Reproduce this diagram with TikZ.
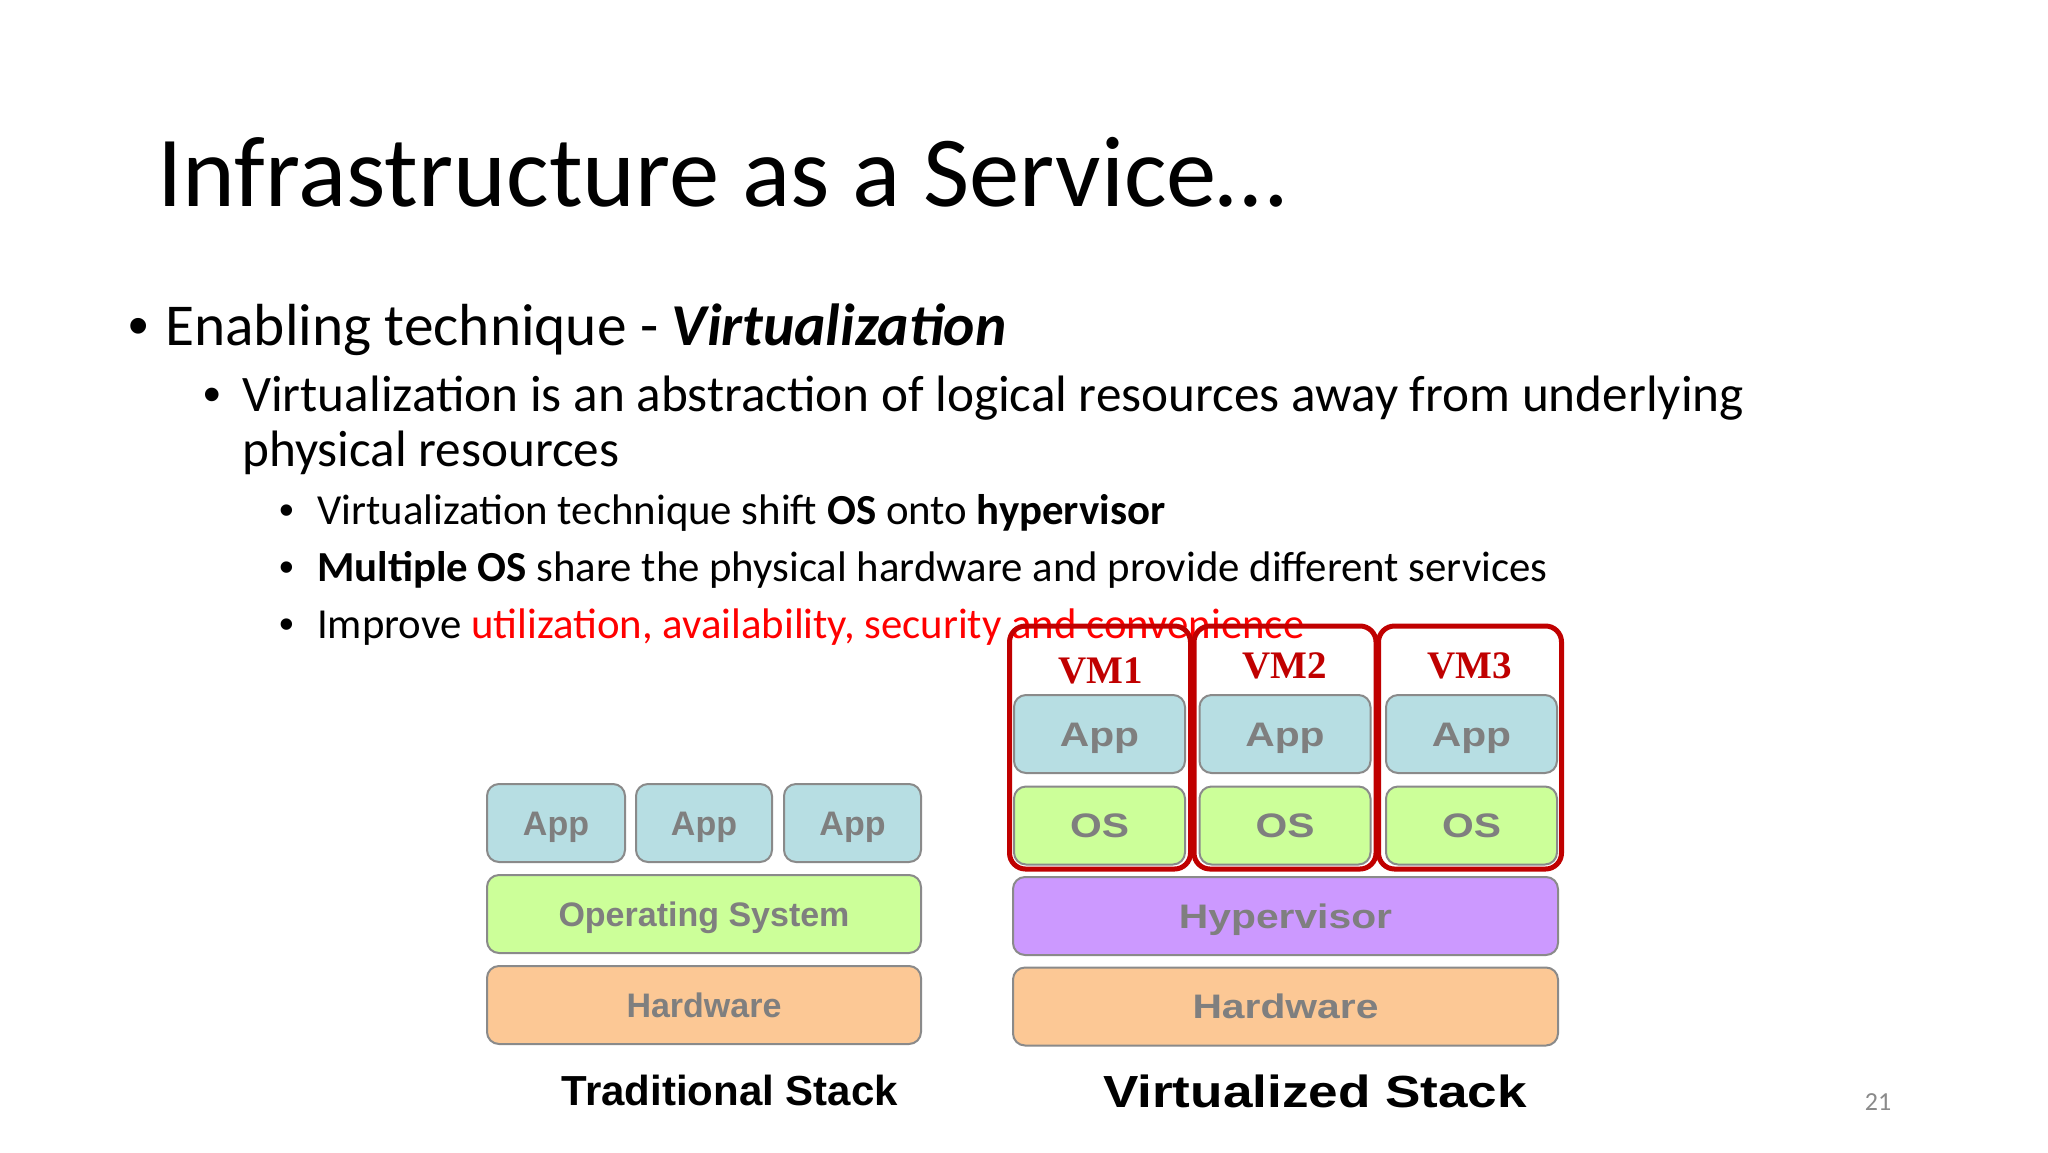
\documentclass[tikz,border=0pt]{standalone}
\usepackage{fontspec}
\setmainfont{Carlito}
\newfontfamily\arialf{Liberation Sans}
\newfontfamily\timesf{Liberation Serif}
\usetikzlibrary{positioning}
\definecolor{appfill}{HTML}{B7DEE3}
\definecolor{osfill}{HTML}{CCFF99}
\definecolor{hwfill}{HTML}{FCC895}
\definecolor{hypfill}{HTML}{CC99FF}
\definecolor{boxgray}{HTML}{8A8A8A}
\definecolor{labelgray}{HTML}{7F7F7F}
\definecolor{vmred}{HTML}{C00000}
\definecolor{txtred}{HTML}{FF0000}
\definecolor{pagegray}{HTML}{8A8A8A}
\tikzset{
  layer/.style={draw=boxgray, line width=2pt, rounded corners=12pt, inner sep=0pt,
    text height=24.3pt, text depth=0pt,
    text=labelgray, font=\arialf\bfseries\fontsize{34}{40}\selectfont},
  vmbox/.style={draw=vmred, line width=5pt, rounded corners=16pt, inner sep=0pt},
  vmlabel/.style={anchor=base, text=vmred, inner sep=0pt, font=\timesf\bfseries\fontsize{39}{44}\selectfont},
  txt/.style={anchor=base west, inner sep=0pt},
  bul/.style={anchor=base west, inner sep=0pt, font=\arialf}
}
\newcommand{\vs}[1]{\scalebox{1.2}[1]{#1}}
\begin{document}
\begin{tikzpicture}[x=1pt,y=-1pt]
\useasboundingbox[fill=white] (0,0) rectangle (2048,1152);

% title
\node[txt, font=\fontsize{100.6}{110}\selectfont] (title) at (157,206) {Infrastructure as a Service…};

% level 1
\node[bul, font=\arialf\fontsize{58}{60}\selectfont] (b1) at (128,345) {•};
\node[txt, font=\fontsize{59.4}{66}\selectfont] (t1) at (165,345) {Enabling technique - \textbf{\textit{Virtualization}}};

% level 2
\node[bul, font=\arialf\fontsize{50}{60}\selectfont] (b2) at (203,411) {•};
\node[txt, font=\fontsize{51.2}{58}\selectfont] (t2a) at (242,411) {Virtualization is an abstraction of logical resources away from underlying};
\node[txt, font=\fontsize{51.2}{58}\selectfont] (t2b) at (242,466) {physical resources};

% level 3
\node[bul, font=\arialf\fontsize{42}{50}\selectfont] (b3) at (279,524) {•};
\node[txt, font=\fontsize{42.8}{50}\selectfont] (t3) at (317,524) {Virtualization technique shift \textbf{OS} onto \textbf{hypervisor}};
\node[bul, font=\arialf\fontsize{42}{50}\selectfont] (b4) at (279,581) {•};
\node[txt, font=\fontsize{42.8}{50}\selectfont] (t4) at (317,581) {\textbf{Multiple OS} share the physical hardware and provide different services};
\node[bul, font=\arialf\fontsize{42}{50}\selectfont] (b5) at (279,638) {•};
\node[txt, font=\fontsize{42.8}{50}\selectfont] (t5) at (317,638) {Improve \textcolor{txtred}{utilization, availability, security and convenience}};

% traditional stack
\node[layer, fill=appfill, minimum width=138pt, minimum height=78pt] (tapp1) at (556,823) {App};
\node[layer, fill=appfill, minimum width=136pt, minimum height=78pt] (tapp2) at (704,823) {App};
\node[layer, fill=appfill, minimum width=137pt, minimum height=78pt] (tapp3) at (852.5,823) {App};
\node[layer, fill=osfill, minimum width=434pt, minimum height=78pt] (tos) at (704,914) {Operating System};
\node[layer, fill=hwfill, minimum width=434pt, minimum height=78pt] (thw) at (704,1005) {Hardware};
\node[anchor=base, inner sep=0pt, font=\arialf\bfseries\fontsize{42}{48}\selectfont] (tlabel) at (730,1105) {Traditional Stack};

% virtualized stack
\node[layer, fill=appfill, minimum width=171pt, minimum height=78pt] (vapp1) at (1099.5,734) {\vs{App}};
\node[layer, fill=appfill, minimum width=171pt, minimum height=78pt] (vapp2) at (1285,734) {\vs{App}};
\node[layer, fill=appfill, minimum width=171pt, minimum height=78pt] (vapp3) at (1471.5,734) {\vs{App}};
\node[layer, fill=osfill, minimum width=171pt, minimum height=78pt] (vos1) at (1099.5,825.5) {\vs{OS}};
\node[layer, fill=osfill, minimum width=171pt, minimum height=78pt] (vos2) at (1285,825.5) {\vs{OS}};
\node[layer, fill=osfill, minimum width=171pt, minimum height=78pt] (vos3) at (1471.5,825.5) {\vs{OS}};
\node[layer, fill=hypfill, minimum width=545pt, minimum height=78pt] (hyp) at (1285.5,916) {\vs{Hypervisor}};
\node[layer, fill=hwfill, minimum width=545pt, minimum height=78pt] (vhw) at (1285.5,1006.5) {\vs{Hardware}};

\node[vmbox, minimum width=181pt, minimum height=243pt] (vm1) at (1100,747.5) {};
\node[vmbox, minimum width=182pt, minimum height=243pt] (vm2) at (1285,747.5) {};
\node[vmbox, minimum width=183pt, minimum height=243pt] (vm3) at (1470,747.5) {};
\node[vmlabel] (vm1l) at (1101,683) {VM1};
\node[vmlabel] (vm2l) at (1285,678) {VM2};
\node[vmlabel] (vm3l) at (1470,678) {VM3};

\node[anchor=base, inner sep=0pt, font=\arialf\bfseries\fontsize{45}{50}\selectfont] (vlabel) at (1315,1107) {\scalebox{1.18}[1]{Virtualized Stack}};

% page number
\node[anchor=base, inner sep=0pt, text=pagegray, font=\fontsize{26}{30}\selectfont] (pg) at (1878,1110) {21};
\end{tikzpicture}
\end{document}
